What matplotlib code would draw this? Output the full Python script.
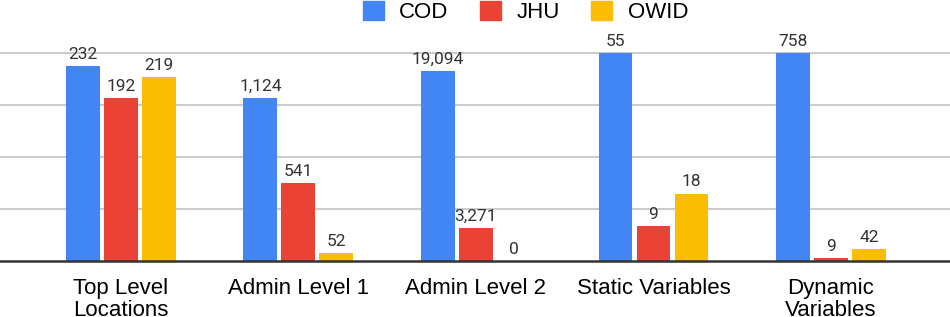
import matplotlib.pyplot as plt
from matplotlib.patches import Patch
import numpy as np

categories = ["Top Level\nLocations", "Admin Level 1", "Admin Level 2", "Static Variables", "Dynamic\nVariables"]
series = ["COD", "JHU", "OWID"]
colors = ["#4285F4", "#EA4335", "#FBBC04"]

# counts shown as labels
cod = [232, 1124, 19094, 55, 758]
jhu = [192, 541, 3271, 9, 9]
owid = [219, 52, 0, 18, 42]

# bar heights as drawn (each group scaled on its own, % of axis)
cod_h = [93.9, 78.2, 91.3, 100, 100]
jhu_h = [78.2, 37.5, 15.9, 16.7, 1.4]
owid_h = [88.6, 3.7, 0, 32.4, 5.6]

counts = [cod, jhu, owid]
heights = [cod_h, jhu_h, owid_h]

plt.rcParams["font.family"] = ["Liberation Sans", "DejaVu Sans"]

fig = plt.figure(figsize=(9.5, 3.17), dpi=100)
ax = fig.add_axes([0, 0.1767, 1, 0.8233])

x = np.arange(len(categories))
width = 0.19
step = 0.214
for i in range(3):
    pos = x + (i - 1) * step
    ax.bar(pos, heights[i], width, color=colors[i], zorder=3)
    for p, h, c in zip(pos, heights[i], counts[i]):
        ax.text(p, h + 2, f"{c:,}", ha="center", va="bottom", fontsize=12.5,
                color="#333333", family=["Roboto", "DejaVu Sans"], zorder=4)

ax.set_xlim(-0.68, 4.67)
ax.set_ylim(0, 125.5)
ax.set_yticks([25, 50, 75, 100])
ax.set_yticklabels([])
ax.yaxis.grid(True, color="#cccccc", linewidth=1.5, zorder=0)
ax.tick_params(axis="y", length=0)
ax.set_xticks(x)
ax.set_xticklabels(categories, fontsize=16, linespacing=1.1)
ax.tick_params(axis="x", length=0, pad=12)
for s in ["top", "right", "left"]:
    ax.spines[s].set_visible(False)
ax.spines["bottom"].set_color("#333333")
ax.spines["bottom"].set_linewidth(1.8)
ax.spines["bottom"].set_zorder(5)

handles = [Patch(color=c, label=s) for c, s in zip(colors, series)]
fig.legend(handles=handles, loc="upper center", bbox_to_anchor=(0.553, 1.06), ncol=3,
           frameon=False, fontsize=16, handlelength=0.95, handleheight=0.95,
           handletextpad=0.7, columnspacing=1.4)

fig.savefig("out.png", dpi=100)
